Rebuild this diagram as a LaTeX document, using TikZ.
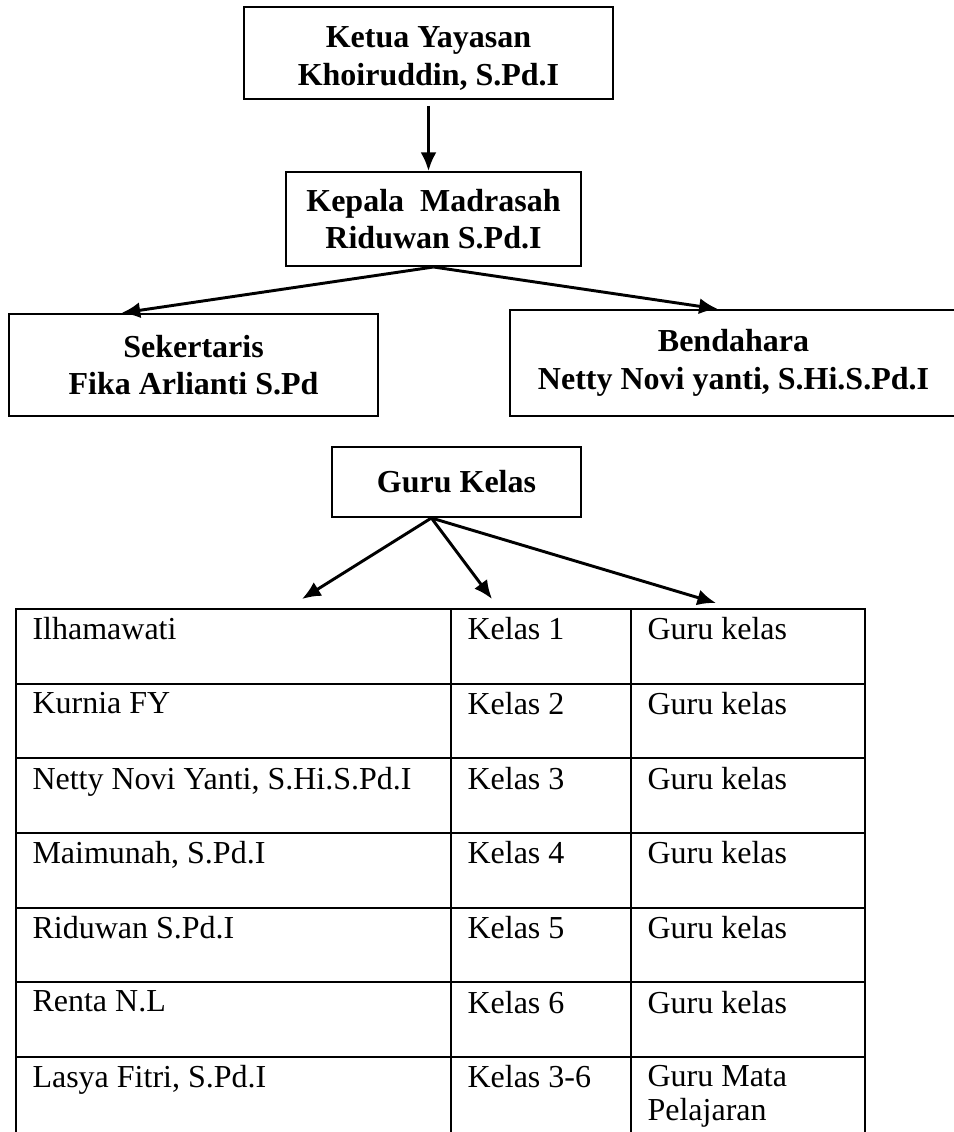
\documentclass[tikz,border=0pt]{standalone}
\usepackage{fontspec}
\setmainfont{Liberation Serif}
\usetikzlibrary{arrows.meta,calc}

\begin{document}
\begin{tikzpicture}[x=0.375pt,y=-0.375pt]
	\tikzset{box/.style = {shape=rectangle, draw, line width=0.75pt, font=\fontsize{12}{14}\selectfont\bfseries, align=center, inner sep=0pt}}
	\tikzset{edge/.style = {-{Latex[length=7pt,width=6pt]}, line width=1.1pt}}
	\tikzset{cell/.style = {anchor=north west, inner sep=0pt, align=left, font=\fontsize{12}{12.75}\selectfont}}
	\useasboundingbox (0,0) rectangle (954,1132);
	\clip (0,0) rectangle (954,1132);
	\node[box, minimum width=138.4pt, minimum height=34.5pt] (ketua) at (428.5, 53) {\rule{0pt}{12pt}Ketua Yayasan\\Khoiruddin, S.Pd.I};
	\node[box, minimum width=110.6pt, minimum height=35.25pt] (kepala) at (433.5, 219) {Kepala~ Madrasah\\Riduwan S.Pd.I};
	\node[box, minimum width=138.4pt, minimum height=38.25pt] (sekretaris) at (193.5, 365) {Sekertaris\\Fika Arlianti S.Pd};
	\node[box, minimum width=167.6pt, minimum height=39.75pt] (bendahara) at (733.5, 363) {Bendahara\\Netty Novi yanti, S.Hi.S.Pd.I};
	\node[box, minimum width=93.4pt, minimum height=26.25pt] (guru) at (456.5, 482) {Guru Kelas};
	\coordinate (guruout) at ($(guru.south west)!0.4!(guru.south east)$);
	\coordinate (kenama) at (302, 599);
	\coordinate (kekelas) at (492, 599);
	\coordinate (ketugas) at (716, 603);
	\draw[edge, shorten <=2.25pt] (ketua.south) to (ketua.south |- kepala.north);
	\draw[edge] (kepala.south) to ($(sekretaris.north west)!0.306!(sekretaris.north east)$);
	\draw[edge] (kepala.south) to ($(bendahara.north west)!0.465!(bendahara.north east)$);
	\draw[edge] (guruout) to (kenama);
	\draw[edge] (guruout) to (kekelas);
	\draw[edge] (guruout) to (ketugas);
	\draw[line width=0.8pt] (16,1140) |- (865,609) -- (865,1140);
	\draw[line width=0.8pt] (451,609) -- (451,1140) (631,609) -- (631,1140);
	\foreach \i in {1,...,6}
		\draw[line width=0.8pt] (16,609+74.67*\i) -- (865,609+74.67*\i);
	\foreach \i/\nama/\kelas/\tugas in {0/Ilhamawati/Kelas 1/Guru kelas, 1/Kurnia FY/Kelas 2/Guru kelas, 2/{Netty Novi Yanti, S.Hi.S.Pd.I}/Kelas 3/Guru kelas, 3/{Maimunah, S.Pd.I}/Kelas 4/Guru kelas, 4/Riduwan S.Pd.I/Kelas 5/Guru kelas, 5/Renta N.L/Kelas 6/Guru kelas, 6/{Lasya Fitri, S.Pd.I}/Kelas 3-6/{Guru Mata\\Pelajaran}}
	{
		\node[cell] (nama\i) at (32, 617+74.67*\i) {\nama};
		\node[cell] (kelas\i) at (467, 617+74.67*\i) {\kelas};
		\node[cell] (tugas\i) at (647, 617+74.67*\i) {\tugas};
	}
\end{tikzpicture}
\end{document}
